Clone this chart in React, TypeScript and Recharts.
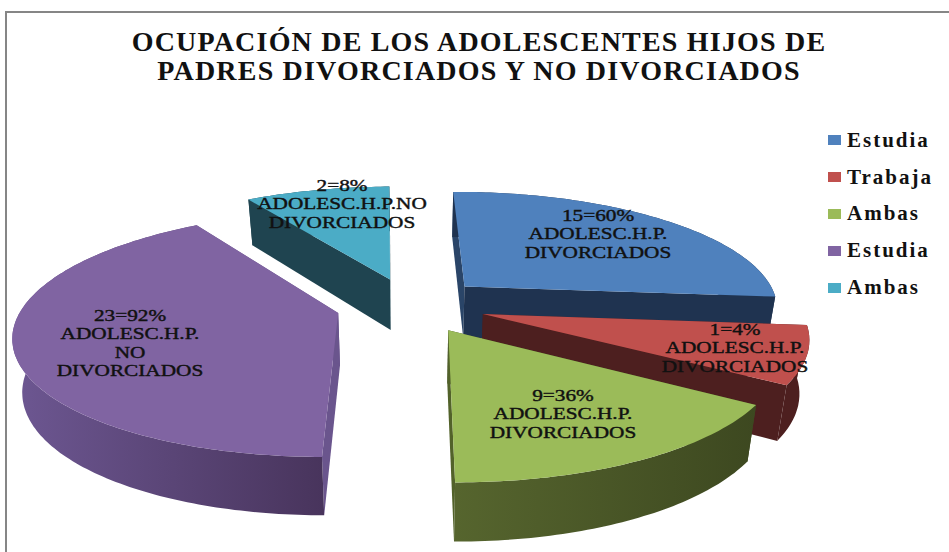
import React from "react";
import { PieChart, Pie, Cell, Legend } from "recharts";

const titleLines = [
  "OCUPACIÓN DE LOS ADOLESCENTES HIJOS DE",
  "PADRES DIVORCIADOS Y NO DIVORCIADOS",
];

const sliceNames = ["Estudia", "Trabaja", "Ambas", "Estudia", "Ambas"];
// slice sizes as drawn in the picture (they do not follow the printed labels)
const sliceValues = [15, 4.3, 9, 23, 5];
const sliceLabels = [
  ["15=60%", "ADOLESC.H.P.", "DIVORCIADOS"],
  ["1=4%", "ADOLESC.H.P.", "DIVORCIADOS"],
  ["9=36%", "ADOLESC.H.P.", "DIVORCIADOS"],
  ["23=92%", "ADOLESC.H.P.", "NO", "DIVORCIADOS"],
  ["2=8%", "ADOLESC.H.P.NO", "DIVORCIADOS"],
];

const sliceColors = ["#4f81bd", "#c0504d", "#9bbb59", "#8064a2", "#4bacc6"];
const wallLeft = ["#1f3350", "#4d1f1f", "#56652e", "#6d5792", "#1f4450"];
const wallRight = ["#1f3350", "#4d1f1f", "#3d4820", "#48345c", "#1f4450"];
const cutStart = ["#2a4568", "#4d1f1f", "#3d4820", "#6a558d", "#1f4450"];
const cutEnd = ["#1f3350", "#4d1f1f", "#52622a", "#6a558d", "#1f4450"];

// label anchor (centre of first line) per slice
const labelX = [598, 735, 563, 130, 342];
const labelY = [221, 335, 401, 321, 191];

const EXPLODE = 75;
const TILT = 0.37;
const PERSPECTIVE = 0.17;
const DEPTH = 52;
const BASE_SHRINK = 0.975;

const pieData = sliceValues.map((value, i) => ({ name: sliceNames[i], value }));

const rad = (deg: number) => (deg * Math.PI) / 180;

function Slice3D(props: any) {
  const { cx, cy, outerRadius: R, startAngle, endAngle, fill } = props;
  const i = sliceColors.indexOf(fill);
  const mid = (startAngle + endAngle) / 2;
  const ox = EXPLODE * Math.cos(rad(mid));
  const oy = -EXPLODE * Math.sin(rad(mid));

  const project = (angle: number, r: number, low: boolean) => {
    const X = ox + r * Math.cos(rad(angle));
    const Y = oy - r * Math.sin(rad(angle));
    const s = 1 / (1 - (PERSPECTIVE * Y) / R);
    const drop = low ? DEPTH + (6 * Y) / R : 0;
    const shrink = low ? BASE_SHRINK : 1;
    return `${(cx + X * s * shrink).toFixed(1)},${(cy + Y * TILT * s + drop).toFixed(1)}`;
  };

  const angles: number[] = [];
  const step = startAngle > endAngle ? -1 : 1;
  for (let a = startAngle; step * (endAngle - a) > 0; a += step) angles.push(a);
  angles.push(endAngle);

  const top = [project(0, 0, false), ...angles.map((a) => project(a, R, false))];
  const wall = [
    ...angles.map((a) => project(a, R, false)),
    ...[...angles].reverse().map((a) => project(a, R, true)),
  ];
  const cut = (a: number) => [
    project(a, 0, false),
    project(a, R, false),
    project(a, R, true),
    project(a, 0, true),
  ];

  return (
    <g>
      <defs>
        <linearGradient id={`wall-${i}`} x1="0" y1="0" x2="1" y2="0">
          <stop offset="0%" stopColor={wallLeft[i]} />
          <stop offset="100%" stopColor={wallRight[i]} />
        </linearGradient>
      </defs>
      <polygon points={cut(startAngle).join(" ")} fill={cutStart[i]} />
      <polygon points={cut(endAngle).join(" ")} fill={cutEnd[i]} />
      <polygon points={wall.join(" ")} fill={`url(#wall-${i})`} />
      <polygon points={top.join(" ")} fill={fill} />
    </g>
  );
}

function SliceLabel(props: any) {
  const { index } = props;
  return (
    <g transform={`translate(${labelX[index]},${labelY[index]}) scale(1.33,1)`}>
      <text
        textAnchor="middle"
        fontFamily="'Liberation Serif', serif"
        fontSize={16}
        fill="#111"
        stroke="#111"
        strokeWidth={0.4}
      >
        {sliceLabels[index].map((line, n) => (
          <tspan key={n} x={0} dy={n === 0 ? 0 : 18.4}>
            {line}
          </tspan>
        ))}
      </text>
    </g>
  );
}

function LegendList() {
  return (
    <div style={{ fontFamily: "'Liberation Serif', serif" }}>
      {sliceNames.map((name, i) => (
        <div key={i} style={{ display: "flex", alignItems: "center", height: 36.8 }}>
          <span style={{ width: 13, height: 10, background: sliceColors[i], marginRight: 6 }} />
          <span style={{ fontSize: 21, fontWeight: "bold", letterSpacing: 2, color: "#111" }}>
            {name}
          </span>
        </div>
      ))}
    </div>
  );
}

export default function App() {
  return (
    <div
      style={{
        position: "absolute",
        left: 0,
        top: 0,
        width: 949,
        height: 552,
        overflow: "hidden",
        background: "#fff",
      }}
    >
      <div
        style={{
          position: "absolute",
          left: 5,
          top: 11,
          width: 944,
          height: 541,
          borderLeft: "2px solid #868686",
          borderTop: "2px solid #868686",
        }}
      />
      <div
        style={{
          position: "absolute",
          left: 79,
          top: 27,
          width: 800,
          textAlign: "center",
          fontFamily: "'Liberation Serif', serif",
          fontWeight: "bold",
          fontSize: 28,
          letterSpacing: 1.2,
          lineHeight: "29px",
          color: "#111",
          whiteSpace: "nowrap",
        }}
      >
        {titleLines.map((line) => (
          <div key={line}>{line}</div>
        ))}
      </div>
      <PieChart width={949} height={552} margin={{ top: 0, right: 0, bottom: 0, left: 0 }}>
        <Pie
          data={pieData}
          dataKey="value"
          nameKey="name"
          cx={411}
          cy={305}
          outerRadius={315}
          startAngle={90.8}
          endAngle={-269.2}
          stroke="none"
          shape={Slice3D}
          label={SliceLabel}
          labelLine={false}
          isAnimationActive={false}
        >
          {pieData.map((_, i) => (
            <Cell key={i} fill={sliceColors[i]} />
          ))}
        </Pie>
        <Legend
          layout="vertical"
          itemSorter={null}
          content={LegendList}
          wrapperStyle={{ position: "absolute", left: 828, top: 122, width: 121, bottom: "auto" }}
        />
      </PieChart>
    </div>
  );
}
